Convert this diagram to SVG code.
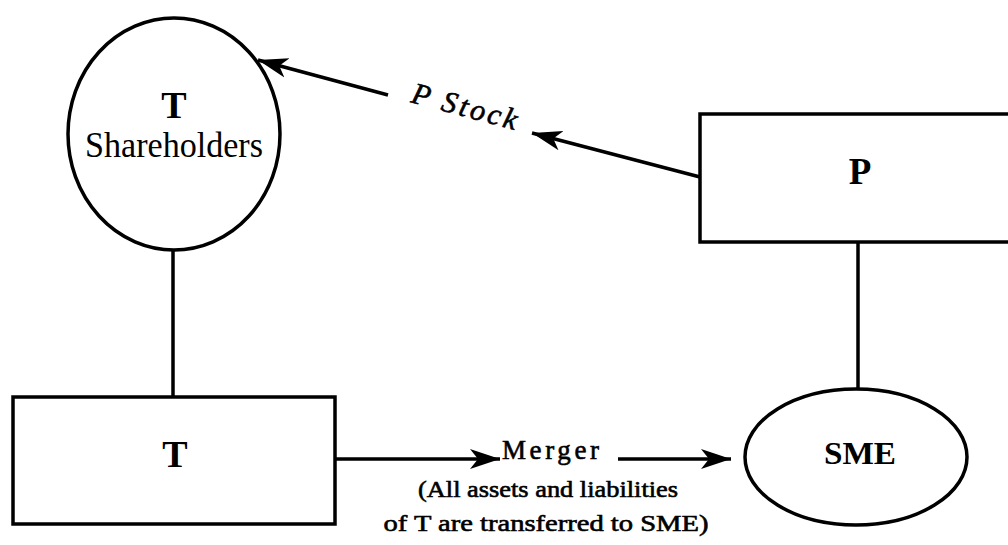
<svg xmlns="http://www.w3.org/2000/svg" width="1008" height="545" viewBox="0 0 1008 545">
  <style>
    .shape { fill: #ffffff; stroke: #000000; stroke-width: 3.5; }
    .link { fill: none; stroke: #000000; stroke-width: 3.5; }
    .label { font-family: "Liberation Serif", "Times New Roman", serif; fill: #000000; }
    .heavy { stroke: #000000; stroke-width: 0.6; }
    .bold { font-weight: bold; }
  </style>
  <defs>
    <marker id="arrow" markerUnits="userSpaceOnUse" markerWidth="34" markerHeight="24" viewBox="-30 -12 34 24" refX="0" refY="0" orient="auto">
      <path d="M0,0 L-30,-10 L-22,0 L-30,10 Z" fill="#000000"/>
    </marker>
  </defs>
  <rect width="1008" height="545" fill="#ffffff"/>

  <!-- connectors -->
  <g id="connectors">
    <line class="link" x1="173" y1="249" x2="173" y2="397"/>
    <line class="link" x1="858" y1="242" x2="858" y2="390"/>
    <line class="link" x1="388" y1="95" x2="258" y2="60" marker-end="url(#arrow)"/>
    <line class="link" x1="700" y1="177" x2="532" y2="133" marker-end="url(#arrow)"/>
    <line class="link" x1="335" y1="459" x2="500" y2="459" marker-end="url(#arrow)"/>
    <line class="link" x1="618" y1="459" x2="731" y2="459" marker-end="url(#arrow)"/>
    <text class="label heavy" font-style="italic" font-size="30" transform="translate(410,102) rotate(15)" textLength="108" lengthAdjust="spacing">P Stock</text>
    <text class="label heavy" font-size="27" x="502" y="459" textLength="97" lengthAdjust="spacing">Merger</text>
    <text class="label heavy" font-size="23" x="548" y="497" text-anchor="middle" textLength="260" lengthAdjust="spacingAndGlyphs">(All assets and liabilities</text>
    <text class="label heavy" font-size="23" x="546" y="531" text-anchor="middle" textLength="325" lengthAdjust="spacingAndGlyphs">of T are transferred to SME)</text>
  </g>

  <!-- T shareholders -->
  <g id="t-shareholders">
    <ellipse class="shape" cx="174" cy="134" rx="106" ry="116"/>
    <text class="label bold" font-size="38" x="174" y="118" text-anchor="middle">T</text>
    <text class="label" font-size="35" x="174" y="157" text-anchor="middle" textLength="178" lengthAdjust="spacingAndGlyphs">Shareholders</text>
  </g>

  <!-- P -->
  <g id="p">
    <rect class="shape" x="700" y="114" width="312" height="128"/>
    <text class="label bold" font-size="37" x="860" y="184" text-anchor="middle">P</text>
  </g>

  <!-- T -->
  <g id="t">
    <rect class="shape" x="13" y="397" width="322" height="127"/>
    <text class="label bold" font-size="38" x="175" y="467" text-anchor="middle">T</text>
  </g>

  <!-- SME -->
  <g id="sme">
    <ellipse class="shape" cx="856" cy="457" rx="111" ry="68"/>
    <text class="label bold" font-size="32" x="860" y="464" text-anchor="middle" textLength="72" lengthAdjust="spacingAndGlyphs">SME</text>
  </g>
</svg>
